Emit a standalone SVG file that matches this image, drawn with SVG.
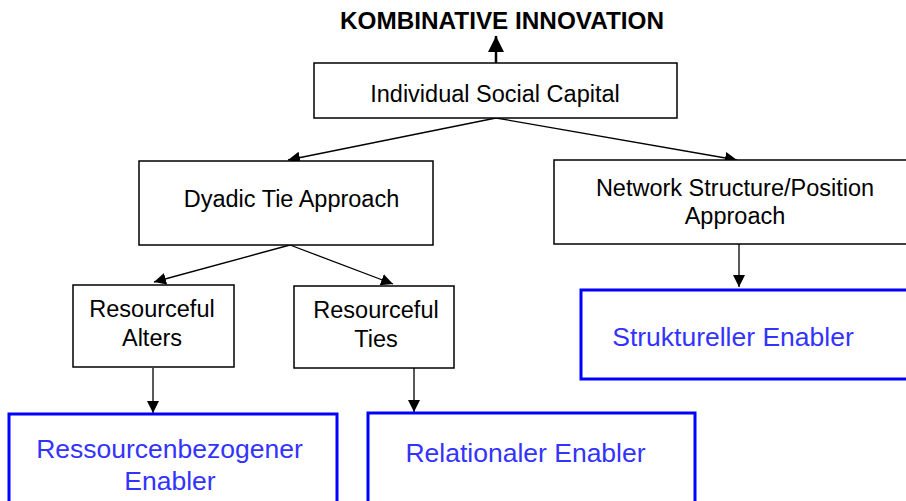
<svg xmlns="http://www.w3.org/2000/svg" width="906" height="501" viewBox="0 0 906 501">
<style>
.box{fill:#fff;stroke:#000;stroke-width:1.5}
.ebox{fill:#fff;stroke:#0000ff;stroke-width:3}
.t{font-family:"Liberation Sans",Arial,sans-serif;font-size:23.5px;fill:#000;text-anchor:middle}
.et{font-family:"Liberation Sans",Arial,sans-serif;font-size:26.5px;fill:#3333ff;text-anchor:middle}
.title{font-family:"Liberation Sans",Arial,sans-serif;font-size:24.3px;font-weight:bold;fill:#000;text-anchor:middle}
.c{stroke:#000;stroke-width:1.3;fill:none;marker-end:url(#ah)}
.cb{stroke:#000;stroke-width:2.5;fill:none;marker-end:url(#ahb)}
</style>
<defs>
<marker id="ah" markerUnits="userSpaceOnUse" markerWidth="12" markerHeight="12" refX="12" refY="6" orient="auto">
<path d="M0,0 L12,6 L0,12 z" fill="#000"/>
</marker>
<marker id="ahb" markerUnits="userSpaceOnUse" markerWidth="16" markerHeight="16" refX="16" refY="8" orient="auto">
<path d="M0,0 L16,8 L0,16 z" fill="#000"/>
</marker>
</defs>
<rect width="906" height="501" fill="#fff"/>
<text class="title" x="502" y="29">KOMBINATIVE INNOVATION</text>
<g id="connectors">
<line class="cb" x1="496" y1="63" x2="496" y2="36"/>
<line class="c" x1="496" y1="118" x2="288" y2="160"/>
<line class="c" x1="496" y1="118" x2="737" y2="160"/>
<line class="c" x1="290" y1="245" x2="154" y2="282"/>
<line class="c" x1="290" y1="245" x2="393" y2="284"/>
<line class="c" x1="739" y1="244" x2="739" y2="287"/>
<line class="c" x1="153" y1="368" x2="153" y2="413"/>
<line class="c" x1="414" y1="368" x2="414" y2="412"/>
</g>
<g id="isc">
<rect class="box" x="314" y="63" width="363" height="55"/>
<text class="t" x="495" y="102">Individual Social Capital</text>
</g>
<g id="dyadic">
<rect class="box" x="139" y="161" width="294" height="84"/>
<text class="t" x="291.5" y="207">Dyadic Tie Approach</text>
</g>
<g id="network">
<rect class="box" x="554" y="160" width="360" height="84"/>
<text class="t" x="735" y="196">Network Structure/Position</text>
<text class="t" x="735" y="224">Approach</text>
</g>
<g id="alters">
<rect class="box" x="73" y="285" width="161" height="82"/>
<text class="t" x="152" y="317">Resourceful</text>
<text class="t" x="152" y="346">Alters</text>
</g>
<g id="ties">
<rect class="box" x="294" y="286" width="160" height="82"/>
<text class="t" x="376" y="318">Resourceful</text>
<text class="t" x="376" y="347">Ties</text>
</g>
<g id="struktureller">
<rect class="ebox" x="581" y="290" width="340" height="89"/>
<text class="et" x="733" y="346">Struktureller Enabler</text>
</g>
<g id="ressourcen">
<rect class="ebox" x="9" y="414" width="328" height="100"/>
<text class="et" x="169.5" y="458">Ressourcenbezogener</text>
<text class="et" x="170" y="490">Enabler</text>
</g>
<g id="relationaler">
<rect class="ebox" x="368" y="413" width="327" height="100"/>
<text class="et" x="525.5" y="462">Relationaler Enabler</text>
</g>
</svg>
